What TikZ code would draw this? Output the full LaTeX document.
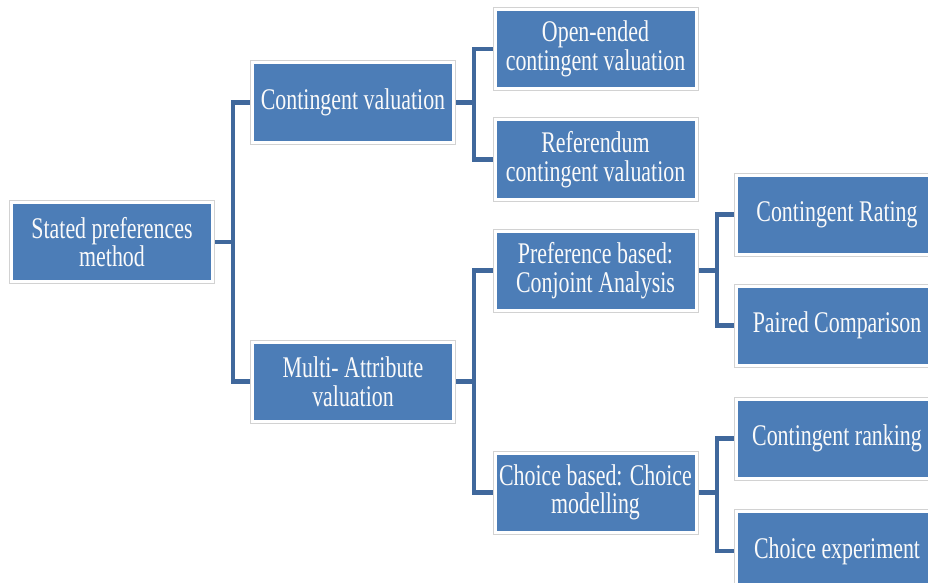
\documentclass[tikz,border=0pt]{standalone}
\usepackage{fontspec}
\setmainfont[FakeStretch=0.73]{Liberation Serif}
\usepackage{xcolor}
\usepackage{tikz}
\usetikzlibrary{positioning,backgrounds}

\definecolor{boxblue}{RGB}{76,125,183}
\definecolor{linkblue}{RGB}{64,104,156}
\definecolor{framegray}{RGB}{210,210,210}

\begin{document}
\begin{tikzpicture}[
    x=1pt, y=-1pt,
    boxstyle/.style={rectangle,fill=boxblue,draw=white,line width=3pt,
        preaction={draw=framegray,line width=5pt},
        minimum width=201pt,minimum height=79pt,inner sep=2pt,
        align=center,text=white!96!gray,font=\fontsize{30}{28.5}\selectfont},
    conn/.style={draw=linkblue,line width=4.6pt,line join=miter}
]
\useasboundingbox (0,0) rectangle (928,583);
\clip (0,0) rectangle (928,583);

% boxes
\node[boxstyle] (spm) at (112,242) {Stated preferences\\method};
\node[boxstyle] (cv) at (353,102.5) {Contingent valuation};
\node[boxstyle] (mav) at (353,381.5) {Multi- Attribute\\valuation};
\node[boxstyle] (oecv) at (595.5,49) {Open-ended\\contingent valuation};
\node[boxstyle] (rcv) at (595.5,159.5) {Referendum\\contingent valuation};
\node[boxstyle] (pbca) at (595.5,270.5) {Preference based:\\Conjoint Analysis};
\node[boxstyle] (cbcm) at (595.5,492.5) {Choice based: Choice\\modelling};
\node[boxstyle] (crat) at (837,214.5) {Contingent Rating};
\node[boxstyle] (pcmp) at (837,325.5) {Paired Comparison};
\node[boxstyle] (crnk) at (837,438.5) {Contingent ranking};
\node[boxstyle] (cexp) at (837,551) {Choice experiment};

% junction points of the tree
\coordinate (j0) at (233,242);
\coordinate (j1) at (474,102.5);
\coordinate (j2) at (474,381.5);
\coordinate (j3) at (717,270.5);
\coordinate (j4) at (717,492.5);

% connectors (behind the boxes)
\begin{scope}[on background layer]
\draw[conn] (spm.east) -- (j0);
\draw[conn] (j0) |- (cv.west);
\draw[conn] (j0) |- (mav.west);
\draw[conn] (cv.east) -- (j1);
\draw[conn] (j1) |- (oecv.west);
\draw[conn] (j1) |- (rcv.west);
\draw[conn] (mav.east) -- (j2);
\draw[conn] (j2) |- (pbca.west);
\draw[conn] (j2) |- (cbcm.west);
\draw[conn] (pbca.east) -- (j3);
\draw[conn] (j3) |- (crat.west);
\draw[conn] (j3) |- (pcmp.west);
\draw[conn] (cbcm.east) -- (j4);
\draw[conn] (j4) |- (crnk.west);
\draw[conn] (j4) |- (cexp.west);
\end{scope}
\end{tikzpicture}
\end{document}
